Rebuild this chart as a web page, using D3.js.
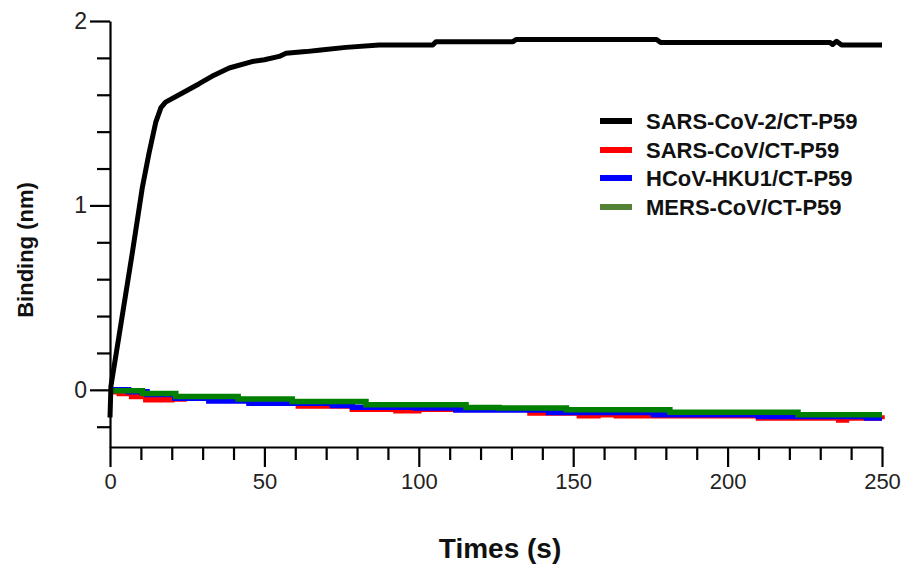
<!DOCTYPE html>
<html>
<head>
<meta charset="utf-8">
<script src="https://cdn.jsdelivr.net/npm/d3@7"></script>
<style>
  body { margin: 0; background: #fff; }
  svg { font-family: "Liberation Sans", Arial, sans-serif; }
</style>
</head>
<body>
<div id="plot"></div>
<script>
// values: [time (s), binding (nm)]
var sarsCov2 = [[0,-0.15],[0.3,0.02],[2.9,0.29],[7.2,0.74],[10.5,1.10],[12.6,1.28],[14.8,1.45],
  [16.5,1.53],[18,1.56],[22.4,1.60],[28.9,1.66],[33,1.70],[38.6,1.745],[46,1.78],[50,1.79],
  [54.8,1.808],[57,1.825],[63.4,1.834],[68.3,1.843],[76.4,1.857],[87.2,1.87],[104.5,1.87],
  [105.6,1.888],[130.5,1.888],[131.5,1.90],[177,1.90],[178.3,1.884],[233.1,1.884],[234,1.873],
  [235.3,1.89],[236.9,1.87],[250,1.87]];
var sarsCov = [[0,-0.01],[3,-0.02],[7,-0.036],[11.6,-0.054],[20,-0.05],[24,-0.045],[40,-0.055],
  [50,-0.065],[61,-0.087],[78.5,-0.105],[92.6,-0.114],[100,-0.105],[136,-0.126],[152,-0.141],
  [158,-0.135],[164,-0.141],[210,-0.153],[236,-0.163],[238.5,-0.153],[250,-0.159]];
var hku1 = [[0,0],[6,-0.01],[12,-0.025],[21,-0.045],[32,-0.06],[45,-0.073],[72,-0.085],
  [78.5,-0.094],[99,-0.099],[112,-0.11],[142,-0.123],[176,-0.135],[210,-0.145],[245,-0.153],[250,-0.153]];
var mers = [[0,-0.005],[10.5,-0.02],[21.3,-0.036],[41.5,-0.05],[59,-0.063],[82.9,-0.081],
  [115.3,-0.096],[126,-0.099],[147.8,-0.108],[181.3,-0.121],[222.8,-0.135],[250,-0.135]];

var seriesNames = ["SARS-CoV-2/CT-P59","SARS-CoV/CT-P59","HCoV-HKU1/CT-P59","MERS-CoV/CT-P59"];
var lineColors = ["#000000","#ff0000","#0000ff","#008000"];
var legendColors = ["#000000","#ff0000","#0000ff","#548235"];
var xTicks = [0,50,100,150,200,250];
var yTicks = [0,1,2];

var W = 908, H = 569;
var svg = d3.select("#plot").append("svg").attr("width", W).attr("height", H);

var x = d3.scaleLinear().domain([0,250]).range([110,882]);
var y = d3.scaleLinear().domain([-0.31,2]).range([447,21]);

// x axis: major every 50, minor every 10
svg.append("g").attr("transform","translate(0,447)")
  .call(d3.axisBottom(x).tickValues(d3.range(0,251,10).filter(d => d % 50)).tickSize(13).tickFormat(""))
  .call(g => g.select(".domain").remove());
svg.append("g").attr("transform","translate(0,447)")
  .call(d3.axisBottom(x).tickValues(xTicks).tickSize(20).tickSizeOuter(0).tickPadding(6))
  .call(g => g.selectAll("text").attr("font-size",22).attr("fill","#222").attr("font-family","Liberation Sans, Arial"));

// y axis: major every 1, minor every 0.2
svg.append("g").attr("transform","translate(110,0)")
  .call(d3.axisLeft(y).tickValues([-0.2,0.2,0.4,0.6,0.8,1.2,1.4,1.6,1.8]).tickSize(13).tickFormat(""))
  .call(g => g.select(".domain").remove());
svg.append("g").attr("transform","translate(110,0)")
  .call(d3.axisLeft(y).tickValues(yTicks).tickFormat(d3.format("d")).tickSize(20).tickSizeOuter(0).tickPadding(3))
  .call(g => g.selectAll("text").attr("font-size",23).attr("fill","#222").attr("font-family","Liberation Sans, Arial"));

svg.selectAll(".domain, .tick line").attr("stroke","#000").attr("stroke-width",2.2);

// lines
var stepLine = d3.line().x(d => x(d[0])).y(d => y(d[1])).curve(d3.curveStepAfter);
var plainLine = d3.line().x(d => x(d[0])).y(d => y(d[1]));
[sarsCov, hku1, mers].forEach(function(s, i){
  svg.append("path").datum(s).attr("d", stepLine)
    .attr("fill","none").attr("stroke", lineColors[i+1]).attr("stroke-width",5.5);
});
svg.append("path").datum(sarsCov2).attr("d", plainLine)
  .attr("fill","none").attr("stroke", lineColors[0]).attr("stroke-width",5).attr("stroke-linejoin","round");

// legend
var legendY = [121,150,178,207];
var leg = svg.selectAll(".leg").data(seriesNames).join("g").attr("class","leg")
  .attr("transform", (d,i) => "translate(600," + legendY[i] + ")");
leg.append("line").attr("x1",0).attr("x2",32).attr("stroke",(d,i) => legendColors[i]).attr("stroke-width",6);
leg.append("text").attr("x",46).attr("y",7.5).text(d => d)
  .attr("font-size",22).attr("font-weight","bold").attr("fill","#111");

// axis titles
svg.append("text").attr("x",500).attr("y",558).attr("text-anchor","middle")
  .attr("font-size",28).attr("font-weight","bold").attr("fill","#111").text("Times (s)");
svg.append("text").attr("transform","translate(33,250) rotate(-90)").attr("text-anchor","middle")
  .attr("font-size",22).attr("font-weight","bold").attr("fill","#111").text("Binding (nm)");
</script>
</body>
</html>
